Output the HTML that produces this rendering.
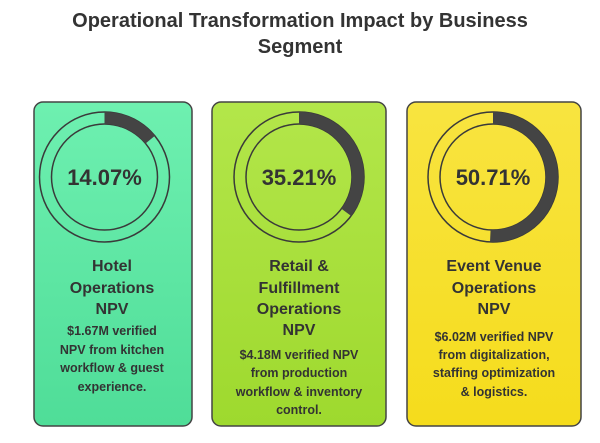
<!DOCTYPE html>
<html><head><style>
body{margin:0;width:600px;height:438px;background:#fff;overflow:hidden}
svg text{font-family:"Liberation Sans",sans-serif;font-weight:bold;fill:#333;text-anchor:middle}
</style></head><body>
<svg width="600" height="438" viewBox="0 0 600 438">
<defs>
<linearGradient id="g1" x1="0" y1="0" x2="0" y2="1"><stop offset="0" stop-color="#6ef0b0"/><stop offset="1" stop-color="#4fdd98"/></linearGradient>
<linearGradient id="g2" x1="0" y1="0" x2="0" y2="1"><stop offset="0" stop-color="#b3e64a"/><stop offset="1" stop-color="#9ed92e"/></linearGradient>
<linearGradient id="g3" x1="0" y1="0" x2="0" y2="1"><stop offset="0" stop-color="#f8e440"/><stop offset="1" stop-color="#f5dc1c"/></linearGradient>
</defs>
<text x="300" y="27" font-size="20">Operational Transformation Impact by Business</text>
<text x="300" y="53" font-size="20">Segment</text>

<rect x="34" y="102" width="158" height="324" rx="9" fill="url(#g1)" stroke="#444" stroke-width="1.5"/>
<rect x="212" y="102" width="174" height="324" rx="9" fill="url(#g2)" stroke="#444" stroke-width="1.5"/>
<rect x="407" y="102" width="174" height="324" rx="9" fill="url(#g3)" stroke="#444" stroke-width="1.5"/>

<g fill="none" stroke="#3a3a3a">
<circle cx="104.5" cy="177" r="65" stroke-width="1.5"/><circle cx="104.5" cy="177" r="53" stroke-width="1.5"/>
<circle cx="104.5" cy="177" r="59" stroke-width="12" stroke="#444" stroke-dasharray="52.2 400" transform="rotate(-90 104.5 177)"/>
<circle cx="299" cy="177" r="65" stroke-width="1.5"/><circle cx="299" cy="177" r="53" stroke-width="1.5"/>
<circle cx="299" cy="177" r="59" stroke-width="12" stroke="#444" stroke-dasharray="130.5 400" transform="rotate(-90 299 177)"/>
<circle cx="493" cy="177" r="65" stroke-width="1.5"/><circle cx="493" cy="177" r="53" stroke-width="1.5"/>
<circle cx="493" cy="177" r="59" stroke-width="12" stroke="#444" stroke-dasharray="188 400" transform="rotate(-90 493 177)"/>
</g>
<text x="104.5" y="185" font-size="22">14.07%</text>
<text x="299" y="185" font-size="22">35.21%</text>
<text x="493" y="185" font-size="22">50.71%</text>

<g font-size="16">
<text x="112" y="271">Hotel</text><text x="112" y="293">Operations</text><text x="112" y="314">NPV</text>
<text x="299" y="271">Retail &amp;</text><text x="299" y="293">Fulfillment</text><text x="299" y="314">Operations</text><text x="299" y="335">NPV</text>
<text x="494" y="271">Event Venue</text><text x="494" y="293">Operations</text><text x="494" y="314">NPV</text>
</g>
<g font-size="12.5">
<text x="112" y="335">$1.67M verified</text><text x="112" y="354">NPV from kitchen</text><text x="112" y="372">workflow &amp; guest</text><text x="112" y="391">experience.</text>
<text x="299" y="359">$4.18M verified NPV</text><text x="299" y="377">from production</text><text x="299" y="396">workflow &amp; inventory</text><text x="299" y="414">control.</text>
<text x="494" y="341">$6.02M verified NPV</text><text x="494" y="359">from digitalization,</text><text x="494" y="377">staffing optimization</text><text x="494" y="396">&amp; logistics.</text>
</g>
</svg>
</body></html>
